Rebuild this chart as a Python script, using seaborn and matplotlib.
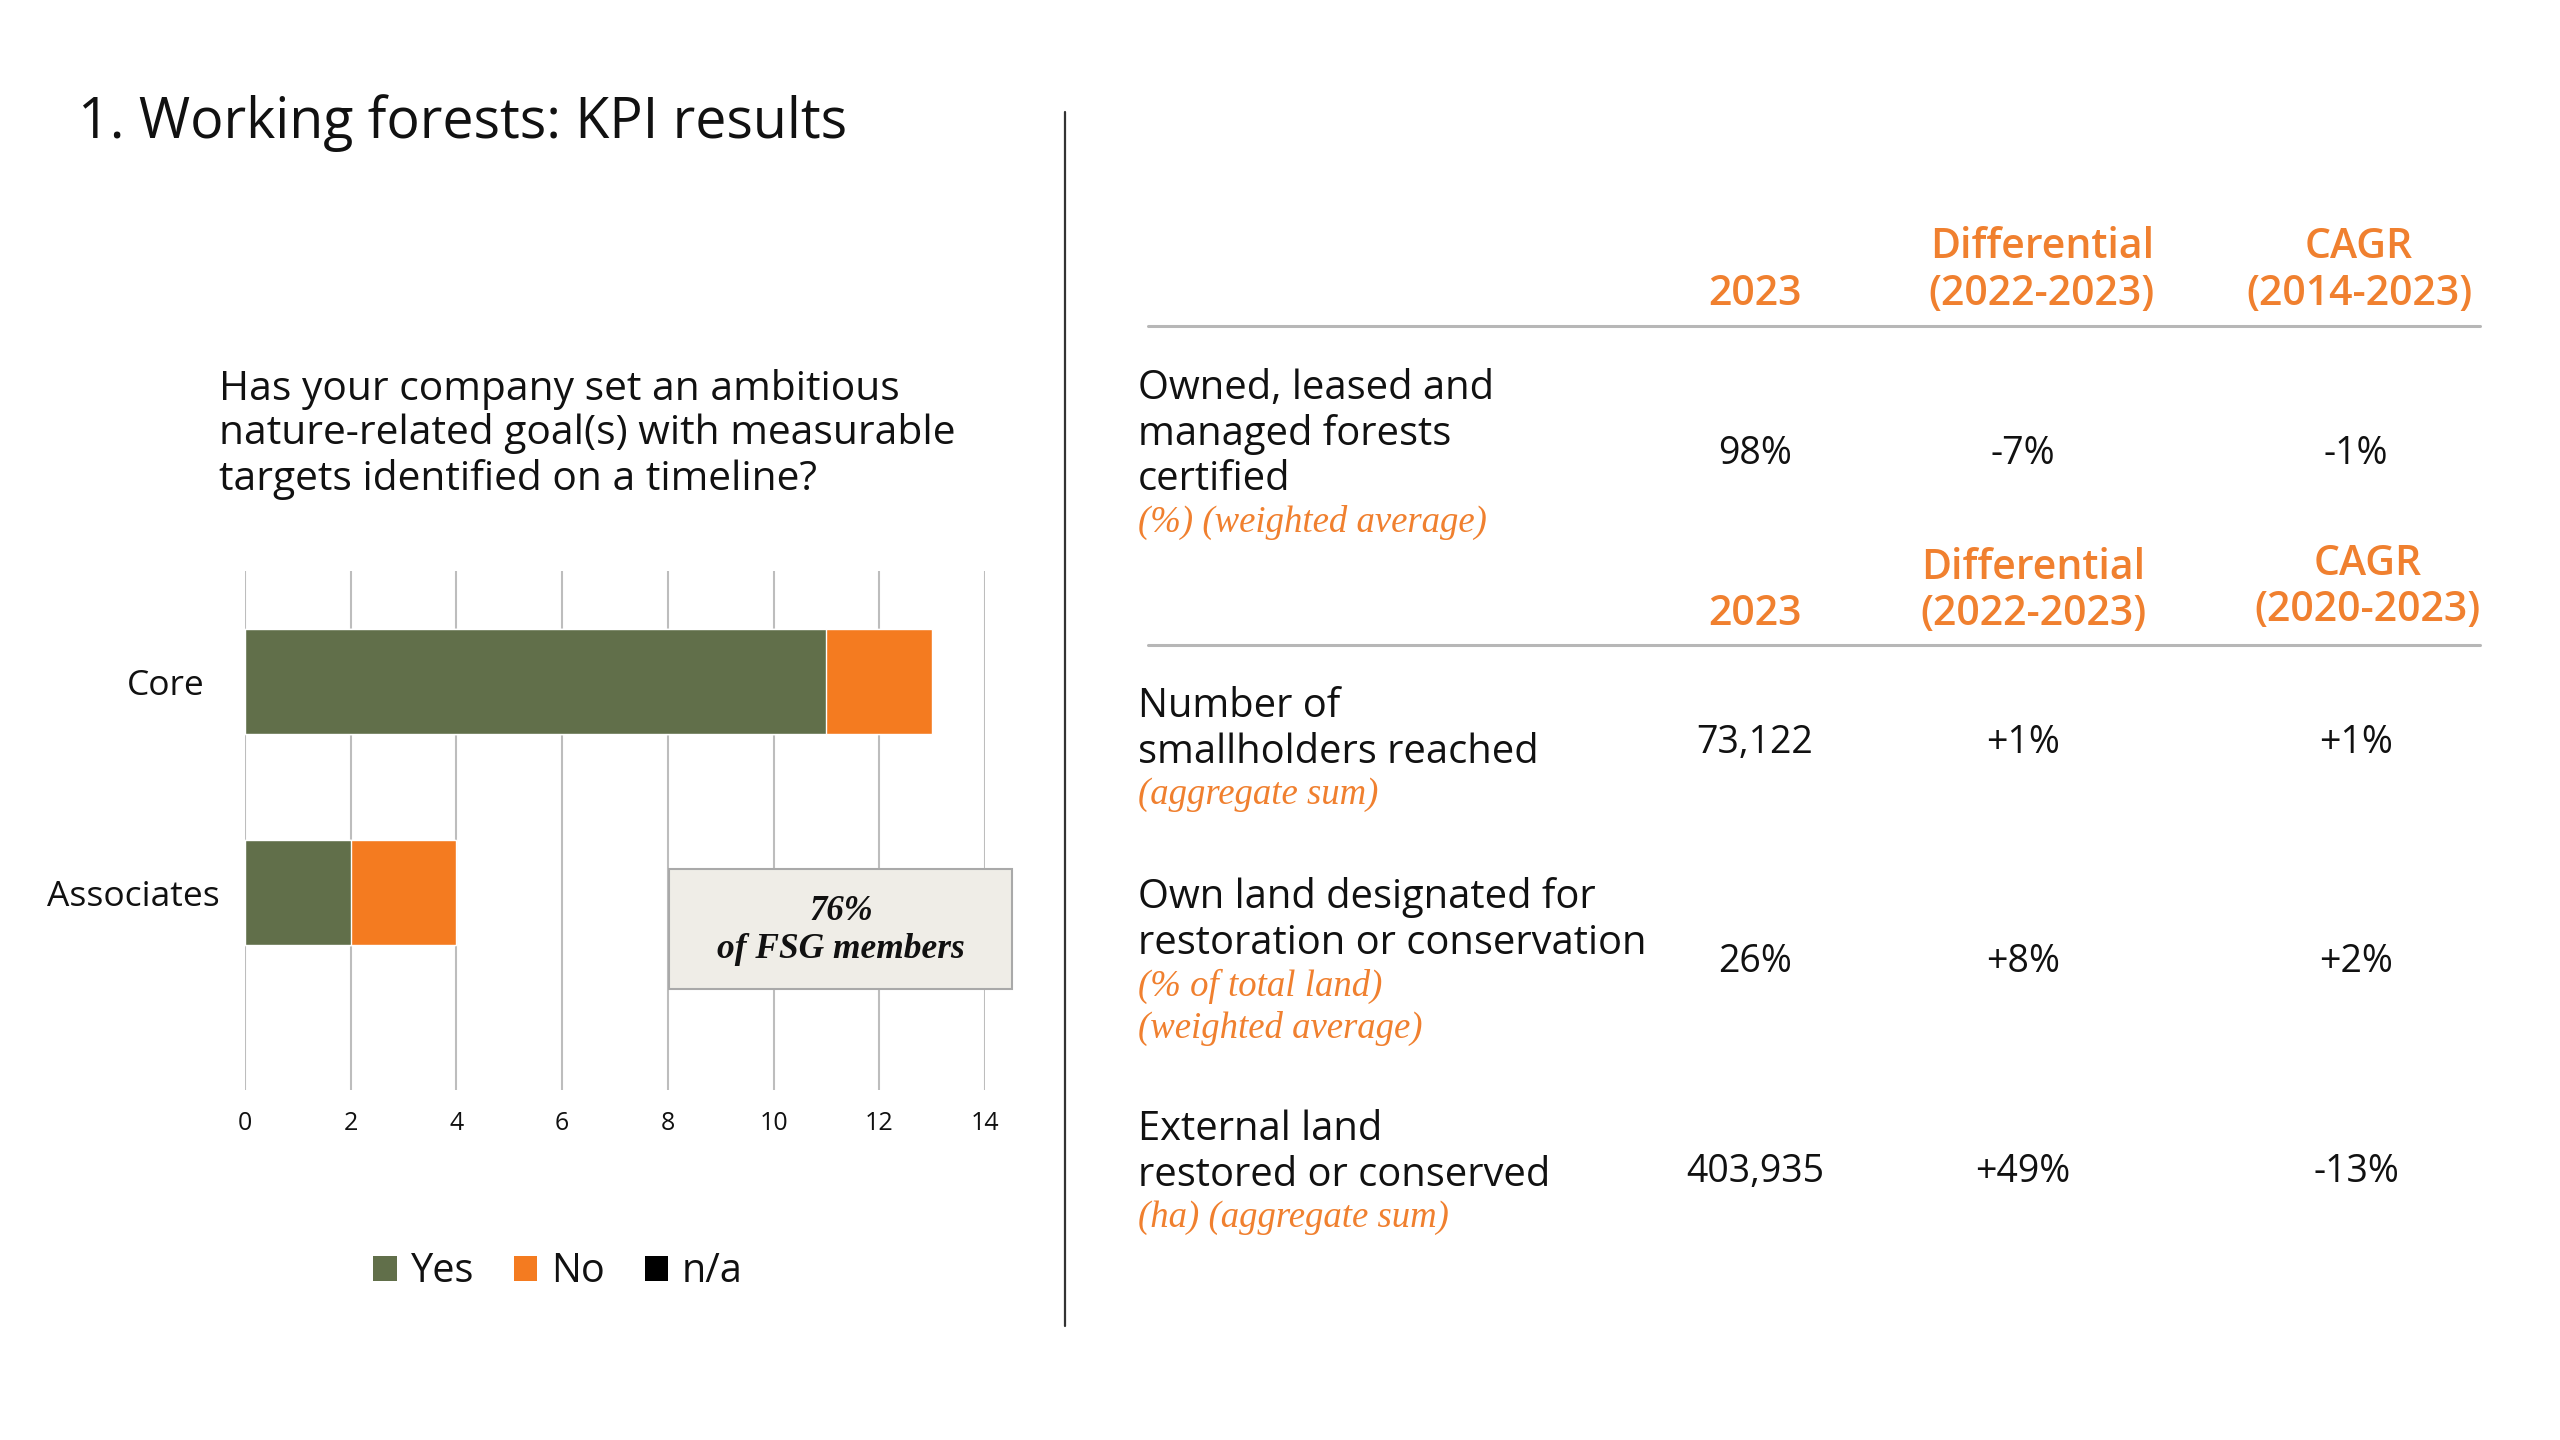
import matplotlib
matplotlib.use("Agg")
import matplotlib.pyplot as plt
from matplotlib.patches import Rectangle, Patch
from matplotlib.lines import Line2D
from matplotlib.transforms import ScaledTranslation
import seaborn as sns
import pandas as pd

# ---------------- data ----------------
groups = ["Core", "Associates"]
yes_counts = [11, 2]
no_counts = [2, 2]
na_counts = [0, 0]
legend_labels = ["Yes", "No", "n/a"]
x_ticks = [0, 2, 4, 6, 8, 10, 12, 14]

title = "1. Working forests: KPI results"
question = ["Has your company set an ambitious",
            "nature-related goal(s) with measurable",
            "targets identified on a timeline?"]
callout = ["76%", "of FSG members"]

metric_names = [["Owned, leased and", "managed forests", "certified"],
                ["Number of", "smallholders reached"],
                ["Own land designated for", "restoration or conservation"],
                ["External land", "restored or conserved"]]
metric_notes = [["(%) (weighted average)"],
                ["(aggregate sum)"],
                ["(% of total land)", "(weighted average)"],
                ["(ha) (aggregate sum)"]]
val_2023 = ["98%", "73,122", "26%", "403,935"]
val_diff = ["-7%", "+1%", "+8%", "+49%"]
val_cagr = ["-1%", "+1%", "+2%", "-13%"]
hdr_year = "2023"
hdr_diff = ["Differential", "(2022-2023)"]
hdr_cagr_1 = ["CAGR", "(2014-2023)"]
hdr_cagr_2 = ["CAGR", "(2020-2023)"]

# ---------------- style ----------------
GREEN = "#616F4A"
ORANGE = "#F47B20"
TXT_OR = "#F0802F"
GRID = "#BDBDBD"
W, H = 2560, 1440

sns.set_theme(style="white")
SANS = ["Open Sans", "DejaVu Sans"]
SERIF = ["Liberation Serif", "DejaVu Serif"]
plt.rcParams["font.family"] = SANS

fig = plt.figure(figsize=(25.6, 14.4), dpi=100)
fig.patch.set_facecolor("white")


def fx(x):
    return x / W


def fy(y):
    return 1 - y / H


def ftext(x, y, s, **kw):
    kw.setdefault("va", "center")
    kw.setdefault("color", "#111111")
    fig.text(fx(x), fy(y), s, **kw)


# ---------------- bar chart ----------------
AX_L, AX_R, AX_T, AX_B = 245, 985, 571, 1090
ax = fig.add_axes([fx(AX_L), fy(AX_B), (AX_R - AX_L) / W, (AX_B - AX_T) / H])
df = pd.DataFrame({"group": groups, "yes": yes_counts, "no": no_counts, "na": na_counts})
df["yes_no"] = df["yes"] + df["no"]
df["all"] = df["yes_no"] + df["na"]

sns.barplot(data=df, y="group", x="all", order=groups, color="black", width=0.5,
            saturation=1, orient="h", ax=ax, zorder=3)
sns.barplot(data=df, y="group", x="yes_no", order=groups, color=ORANGE, width=0.5,
            saturation=1, orient="h", ax=ax, zorder=3)
sns.barplot(data=df, y="group", x="yes", order=groups, color=GREEN, width=0.5,
            saturation=1, orient="h", ax=ax, zorder=3)

ax.set_xlim(0, 14)
ax.set_ylim(1.936, -0.524)
ax.set_xticks(x_ticks)
ax.set_xticklabels([str(t) for t in x_ticks])
ax.grid(axis="x", color=GRID, linewidth=1.5, zorder=0)
ax.grid(axis="y", visible=False)
ax.set_axisbelow(True)
for s in ax.spines.values():
    s.set_visible(False)
ax.set_xlabel("")
ax.set_ylabel("")
ax.tick_params(axis="x", length=0, pad=15, labelsize=18, labelcolor="#111111")
ax.tick_params(axis="y", length=0, pad=18, labelsize=25.5, labelcolor="#111111")
ax.patch.set_alpha(0)
# the reference places the "Core" label slightly further left
core_lab = ax.get_yticklabels()[0]
core_lab.set_transform(core_lab.get_transform() +
                       ScaledTranslation(-0.15, 0, fig.dpi_scale_trans))

# legend
handles = [Patch(facecolor=GREEN, edgecolor="none"),
           Patch(facecolor=ORANGE, edgecolor="none"),
           Patch(facecolor="black", edgecolor="none")]
fig.legend(handles, legend_labels, loc="center", bbox_to_anchor=(fx(558), fy(1272)),
           ncol=3, frameon=False, fontsize=28.5, handlelength=0.6, handleheight=0.6,
           handletextpad=0.35, columnspacing=1.0, labelcolor="#111111")

# call-out box
BX0, BX1, BY0, BY1 = 669, 1012, 869, 989
fig.patches.append(Rectangle((fx(BX0), fy(BY1)), (BX1 - BX0) / W, (BY1 - BY0) / H,
                             transform=fig.transFigure, facecolor="#EFEDE7",
                             edgecolor="#A9A9A9", linewidth=1.5, zorder=5))
ftext(841, 912, callout[0], ha="center", family=SERIF, style="italic",
      weight="bold", fontsize=25, zorder=6)
ftext(841, 949, callout[1], ha="center", family=SERIF, style="italic",
      weight="bold", fontsize=25.5, zorder=6)

# title and question
ftext(78, 123, title, ha="left", fontsize=40)
for y, line in zip([389, 434, 480], question):
    ftext(219, y, line, ha="left", fontsize=29.3)

# divider
fig.add_artist(Line2D([fx(1065), fx(1065)], [fy(112), fy(1326)],
                      transform=fig.transFigure, color="#333333", linewidth=1.6))

# ---------------- KPI table ----------------
COL_X = [1755, 2030, 2356]
HSIZE = 29.5
HW = "semibold"


def header(y_top, y_bot, cagr, diff_x, cagr_x, cagr_dy=0):
    ftext(COL_X[0], y_bot, hdr_year, ha="center", fontsize=HSIZE, color=TXT_OR, weight=HW)
    ftext(diff_x, y_top, hdr_diff[0], ha="center", fontsize=HSIZE, color=TXT_OR, weight=HW)
    ftext(diff_x, y_bot, hdr_diff[1], ha="center", fontsize=HSIZE, color=TXT_OR, weight=HW)
    ftext(cagr_x, y_top + cagr_dy, cagr[0], ha="center", fontsize=HSIZE, color=TXT_OR, weight=HW)
    ftext(cagr_x, y_bot + cagr_dy, cagr[1], ha="center", fontsize=HSIZE, color=TXT_OR, weight=HW)


def hline(y):
    fig.add_artist(Line2D([fx(1148), fx(2480)], [fy(y), fy(y)], transform=fig.transFigure,
                          color="#B7B7B7", linewidth=2.2))


header(247, 294, hdr_cagr_1, 2042, 2359)
hline(326)
header(568, 614, hdr_cagr_2, 2033, 2368, cagr_dy=-4)
hline(645)

row_first_y = [389, 707, 898, 1130]
row_val_y = [454, 743, 962, 1172]
LINE = 45.5
NOTE = 42
for i in range(4):
    y = row_first_y[i]
    for line in metric_names[i]:
        ftext(1138, y, line, ha="left", fontsize=28.7)
        y += LINE
    y -= 3
    for note in metric_notes[i]:
        ftext(1138, y, note, ha="left", fontsize=26.5, color=TXT_OR,
              family=SERIF, style="italic")
        y += NOTE
    ftext(COL_X[0], row_val_y[i], val_2023[i], ha="center", fontsize=27)
    ftext(2023, row_val_y[i], val_diff[i], ha="center", fontsize=27)
    ftext(COL_X[2], row_val_y[i], val_cagr[i], ha="center", fontsize=27)

fig.savefig("out.png", dpi=100, facecolor="white")
